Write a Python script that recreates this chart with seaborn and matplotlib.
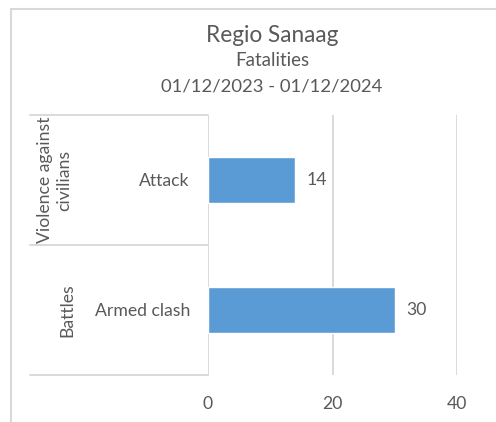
import matplotlib
matplotlib.use("Agg")
import matplotlib.pyplot as plt
import seaborn as sns
import pandas as pd

# ---- data ----
groups = ["Violence against\ncivilians", "Battles"]
subtypes = ["Attack", "Armed clash"]
fatalities = [14, 30]
x_ticks = [0, 20, 40]

df = pd.DataFrame({"group": groups, "subtype": subtypes, "fatalities": fatalities})

sns.set_style("white")
plt.rcParams["font.family"] = ["Lato", "DejaVu Sans"]

TEXT = "#595959"
GRID = "#D9D9D9"
BAR = "#5B9BD5"
FS = 12.7

W, H = 496, 422
fig = plt.figure(figsize=(W / 100, H / 100), dpi=100)

# plot area in pixels: x 208..457, y 115..375
ax = fig.add_axes([208 / W, 1 - 375 / H, (457 - 208) / W, (375 - 115) / H])

sns.barplot(data=df, y="subtype", x="fatalities", orient="h", color=BAR,
            width=0.354, saturation=1, ax=ax)

ax.set_xlim(0, 40)
ax.set_ylim(1.5, -0.5)
ax.set_xticks(x_ticks)
ax.set_xticklabels([str(t) for t in x_ticks], fontsize=FS, color=TEXT)
ax.tick_params(axis="x", length=0, pad=15)
ax.tick_params(axis="y", length=0, pad=13, labelsize=FS, labelcolor=TEXT)
ax.set_xlabel("")
ax.set_ylabel("")
for s in ax.spines.values():
    s.set_visible(False)

# vertical gridlines
for t in x_ticks:
    ax.axvline(t, color=GRID, lw=1.4, zorder=0)

# data labels
for i, v in enumerate(fatalities):
    ax.text(v + 1.8, i, str(v), va="center", ha="left", fontsize=FS, color=TEXT)

# hierarchical category axis box
tr = ax.get_yaxis_transform()
x_left = (30 - 208) / 249
for yb in [-0.5, 0.5, 1.5]:
    ax.plot([x_left, 0], [yb, yb], transform=tr, color=GRID, lw=1.4, clip_on=False)

group_x = [(55 - 208) / 249, (67 - 208) / 249]
for i, g in enumerate(groups):
    ax.text(group_x[i], i, g, transform=tr, rotation=90, ha="center", va="center",
            fontsize=FS, color=TEXT, multialignment="center", linespacing=1.25)

# titles
fig.text(272 / W, 1 - 35 / H, "Regio Sanaag", ha="center", va="center", fontsize=16.3, color=TEXT)
fig.text(272 / W, 1 - 61 / H, "Fatalities", ha="center", va="center", fontsize=13.5, color=TEXT)
fig.text(272 / W, 1 - 87 / H, "01/12/2023 - 01/12/2024", ha="center", va="center",
         fontsize=13.3, color=TEXT)

# chart border (top and left visible)
fig.add_artist(plt.Line2D([11 / W, 1], [1 - 9 / H, 1 - 9 / H], color=GRID, lw=1.5))
fig.add_artist(plt.Line2D([11 / W, 11 / W], [0, 1 - 9 / H], color=GRID, lw=1.5))

fig.savefig("out.png", dpi=100)
